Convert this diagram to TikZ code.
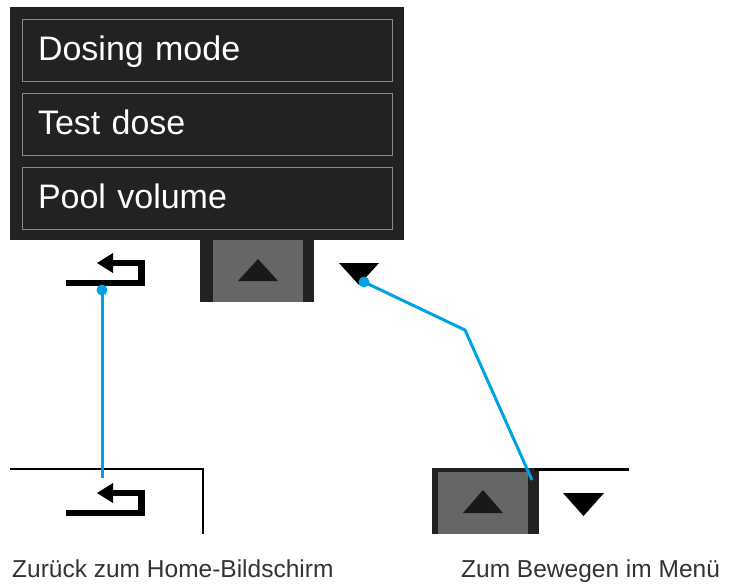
\documentclass[tikz,border=0pt]{standalone}
\usepackage{fontspec}
\setmainfont{Liberation Sans}
\usepackage{tikz}

\definecolor{panel}{HTML}{222222}
\definecolor{keygray}{HTML}{666666}
\definecolor{itemline}{HTML}{8A8A8A}
\definecolor{callout}{HTML}{00A3E0}
\definecolor{captext}{HTML}{333333}

\tikzset{
  menuitem/.style={draw=itemline, line width=1pt, text=white, minimum height=62pt,
    text width=338pt, align=left, inner xsep=16pt, inner ysep=0pt,
    text height=25pt, text depth=5pt, font=\fontsize{34}{40}\selectfont},
  caption/.style={anchor=base west, inner sep=0pt, text=captext, font=\fontsize{24.5}{28}\selectfont},
  calloutline/.style={draw=callout, line width=3pt},
  calloutdot/.style={fill=callout, circle, inner sep=0pt, minimum size=11pt},
  arrowkey/.style={fill=black!90},
  retsym/.pic={
    \draw[line width=6.5pt] (0,0) -- (75.5,0) -- (75.5,-20) -- (42,-20);
    \fill (31,-20) -- (47,-30) -- (47,-10) -- cycle;
  }
}

\begin{document}
\begin{tikzpicture}[x=1pt, y=-1pt]
\useasboundingbox (0,0) rectangle (736,584);

% menu screen
\fill[panel] (10,7) rectangle (404,240);
\node (DosingMode) at (207,50) [menuitem] {Dosing mode};
\node (TestDose) at (207,124) [menuitem] {Test dose};
\node (PoolVolume) at (207,198) [menuitem] {Pool volume};

\fill[panel] (200,240) rectangle (314,302);
\fill[keygray] (213,240) rectangle (303,302);
\fill[arrowkey] (238,281) -- (278,281) -- (258,259) -- cycle;
\fill[black] (339,263) -- (379,263) -- (359,285) -- cycle;
\pic at (66,283) {retsym};

% home screen and keys
\draw[line width=2pt] (10,469) -- (203,469) -- (203,534);
\pic at (66,513) {retsym};

\fill[panel] (432,468) rectangle (539,534);
\fill[keygray] (438,472) rectangle (528,534);
\draw[line width=2.5pt] (535,469.5) -- (629,469.5);
\fill[arrowkey] (463,513) -- (503,513) -- (483,490) -- cycle;
\fill[black] (563,493) -- (604,493) -- (583.5,516) -- cycle;

% callouts
\node (ReturnDot) at (102,290) [calloutdot] {};
\coordinate (ReturnEnd) at (102,478);
\node (DownDot) at (364,282) [calloutdot] {};
\coordinate (Bend) at (465,330);
\coordinate (KeysEnd) at (532,480);

\draw [calloutline] (ReturnDot.center) -- (ReturnEnd);
\draw [calloutline] (DownDot.center) -- (Bend) -- (KeysEnd);

\node (HomeLabel) at (12,577) [caption] {Zurück zum Home-Bildschirm};
\node (MenuLabel) at (461,577) [caption] {Zum Bewegen im Menü};

\end{tikzpicture}
\end{document}
